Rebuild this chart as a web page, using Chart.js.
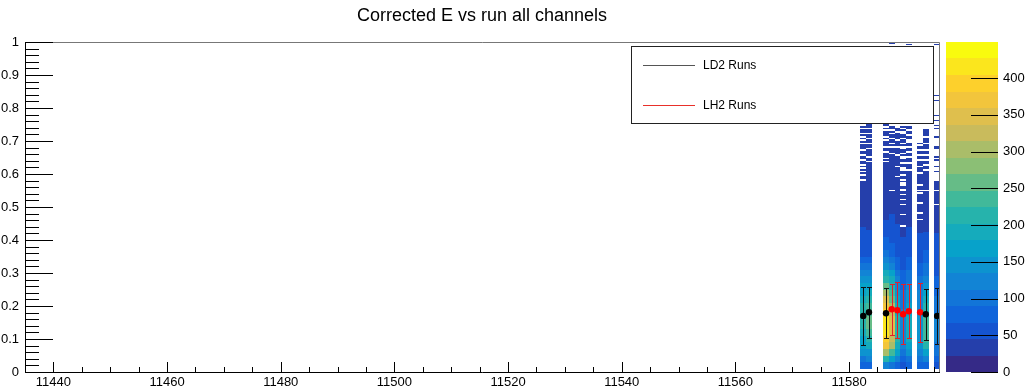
<!DOCTYPE html>
<html>
<head>
<meta charset="utf-8">
<script src="https://cdn.jsdelivr.net/npm/chart.js@4/dist/chart.umd.min.js"></script>
<style>
  html, body { margin: 0; padding: 0; background: #fff; }
</style>
</head>
<body>
<canvas id="chart" width="1033" height="391"></canvas>
<script>
// axis ranges and tick labels
const xMin = 11435, xMax = 11596;
const xTickVals = [11440, 11460, 11480, 11500, 11520, 11540, 11560, 11580];
const yTickVals = [0, 0.1, 0.2, 0.3, 0.4, 0.5, 0.6, 0.7, 0.8, 0.9, 1];
const zMax = 449;
const zTickVals = [0, 50, 100, 150, 200, 250, 300, 350, 400];
const nLevels = 20;

// runs with entries, each bin is [run, run+1]
const runs = [11582, 11583, 11586, 11587, 11588, 11589, 11590, 11592, 11593, 11595];

// counts of the lower part, y bins of 0.02 starting at 0.01
const lowStart = 0.01, lowStep = 0.02;
const counts11582 = [80, 104, 150, 171, 176, 195, 210, 218, 215, 207, 192, 172, 165, 150, 125, 103, 82, 60, 55, 52];
const counts11583 = [76, 120, 150, 188, 210, 232, 250, 255, 238, 230, 212, 185, 165, 140, 118, 98, 75, 58, 50, 48];
const counts11586 = [120, 208, 300, 368, 392, 410, 418, 412, 390, 372, 345, 305, 252, 210, 185, 145, 120, 95, 78, 70];
const counts11587 = [100, 160, 228, 296, 318, 340, 352, 345, 322, 300, 255, 232, 205, 188, 162, 120, 96, 80, 72, 58];
const counts11588 = [72, 118, 162, 185, 205, 212, 218, 208, 195, 186, 165, 142, 125, 115, 95, 80, 70, 58, 50, 47];
const counts11589 = [52, 78, 100, 118, 125, 130, 128, 122, 115, 108, 100, 92, 84, 76, 70, 60, 52, 48, 46, 45];
const counts11590 = [75, 105, 148, 170, 188, 195, 198, 190, 175, 165, 150, 140, 122, 106, 95, 82, 72, 60, 52, 48];
const counts11592 = [70, 100, 125, 140, 150, 152, 148, 145, 138, 128, 120, 115, 102, 95, 85, 72, 62, 55, 48, 46];
const counts11593 = [78, 122, 165, 210, 228, 240, 236, 230, 218, 205, 190, 170, 150, 122, 105, 95, 80, 70, 58, 50];
const counts11595 = [55, 80, 98, 110, 118, 125, 122, 115, 108, 100, 92, 85, 76, 70, 60, 52, 48, 47, 46, 45];

// middle band: counts up to midTops, then sparse counts up to tops
const midTops = [0.44, 0.43, 0.46, 0.48, 0.45, 0.41, 0.44, 0.42, 0.425, 0.42];
const midCounts = [52, 50, 56, 54, 48, 0, 50, 48, 50, 47];
const tops = [0.745, 0.755, 0.75, 0.745, 0.74, 0.745, 0.745, 0.695, 0.735, 0.58];
const highCounts = [34, 36, 38, 36, 32, 28, 34, 30, 33, 30];
const cellH = 0.005;

// empty 0.005 bins inside the sparse part
const gaps11582 = [0.735, 0.72, 0.71, 0.7, 0.69, 0.67, 0.655, 0.64, 0.625, 0.615, 0.605, 0.595, 0.58];
const gaps11583 = [0.735, 0.72, 0.705, 0.69, 0.675, 0.65, 0.635];
const gaps11586 = [0.74, 0.73, 0.71, 0.7, 0.68, 0.665, 0.645, 0.635];
const gaps11587 = [0.73, 0.72, 0.705, 0.69, 0.68, 0.66];
const gaps11588 = [0.725, 0.7, 0.68, 0.655, 0.62, 0.59];
const gaps11589 = [0.735, 0.725, 0.72, 0.705, 0.69, 0.68, 0.675, 0.66, 0.65, 0.645, 0.63, 0.615, 0.61, 0.595, 0.58, 0.57, 0.565, 0.55, 0.535, 0.52, 0.505, 0.475, 0.44];
const gaps11590 = [0.73, 0.715, 0.7, 0.695, 0.68, 0.665, 0.65, 0.63, 0.61];
const gaps11592 = [0.685, 0.67, 0.655, 0.64, 0.62, 0.6, 0.565, 0.54, 0.51, 0.48, 0.46];
const gaps11593 = [0.71, 0.69, 0.67, 0.655, 0.64, 0.625, 0.61];
const gaps11595 = [0.505];

// isolated bins high up
const strayRuns = [11595, 11595, 11595, 11595, 11595, 11595, 11595, 11595, 11595, 11595, 11595, 11595, 11595, 11595, 11587, 11590];
const strayValues = [0.99, 0.835, 0.82, 0.775, 0.76, 0.745, 0.735, 0.71, 0.68, 0.675, 0.65, 0.64, 0.62, 0.605, 0.995, 0.99];
const strayCounts = [28, 26, 27, 30, 29, 31, 30, 28, 32, 30, 29, 31, 33, 30, 26, 24];

// graph points: LD2 and LH2 runs
const ld2Runs = [11582, 11583, 11586, 11593, 11595];
const ld2Values = [0.170, 0.181, 0.178, 0.175, 0.170];
const ld2Errors = [0.088, 0.077, 0.076, 0.078, 0.085];
const lh2Runs = [11587, 11588, 11589, 11590, 11592];
const lh2Values = [0.190, 0.187, 0.175, 0.184, 0.181];
const lh2Errors = [0.078, 0.085, 0.091, 0.082, 0.089];

const lowCounts = [counts11582, counts11583, counts11586, counts11587, counts11588,
                   counts11589, counts11590, counts11592, counts11593, counts11595];
const gapLists = [gaps11582, gaps11583, gaps11586, gaps11587, gaps11588,
                  gaps11589, gaps11590, gaps11592, gaps11593, gaps11595];

const FONT = "'Liberation Sans', Arial, Helvetica, sans-serif";

// kBird palette
function birdColor(t) {
    const s = [0, 0.125, 0.25, 0.375, 0.5, 0.625, 0.75, 0.875, 1];
    const r = [0.2082, 0.0592, 0.0780, 0.0232, 0.1802, 0.5301, 0.8186, 0.9956, 0.9764];
    const g = [0.1664, 0.3599, 0.5041, 0.6419, 0.7178, 0.7492, 0.7328, 0.7862, 0.9832];
    const b = [0.5293, 0.8684, 0.8385, 0.7914, 0.6425, 0.4662, 0.3499, 0.1968, 0.0539];
    let i = 0;
    while (i < s.length - 2 && t > s[i + 1]) i++;
    const f = (t - s[i]) / (s[i + 1] - s[i]);
    const c = a => Math.round(255 * (a[i] + (a[i + 1] - a[i]) * f));
    return 'rgb(' + c(r) + ',' + c(g) + ',' + c(b) + ')';
}
const levelColors = [];
for (let i = 0; i < nLevels; i++) levelColors.push(birdColor(i / (nLevels - 1)));

function colorFor(z) {
    const i = Math.floor(z / (zMax / nLevels));
    return levelColors[Math.max(0, Math.min(nLevels - 1, i))];
}

// keep the axes from asking for extra room around the plot
function fixSize(prop, size) {
    return s => {
        s[prop] = size;
        s.paddingTop = s.paddingBottom = s.paddingLeft = s.paddingRight = 0;
    };
}

// 2D histogram cells
const heatPlugin = {
    id: 'heat',
    beforeDatasetsDraw(chart) {
        const { ctx, chartArea: a } = chart;
        const x = chart.scales.x, y = chart.scales.y;
        ctx.save();
        ctx.beginPath();
        ctx.rect(a.left, a.top, a.right - a.left, a.bottom - a.top);
        ctx.clip();
        const cell = (run, v0, v1, z) => {
            if (z <= 0) return;
            const px0 = Math.round(x.getPixelForValue(run));
            const px1 = Math.round(x.getPixelForValue(run + 1));
            const py0 = Math.round(y.getPixelForValue(v1));
            const py1 = Math.round(y.getPixelForValue(v0));
            ctx.fillStyle = colorFor(z);
            ctx.fillRect(px0, py0, px1 - px0, py1 - py0);
        };
        runs.forEach((run, i) => {
            const low = lowCounts[i];
            low.forEach((z, k) => cell(run, lowStart + k * lowStep, lowStart + (k + 1) * lowStep, z));
            const lowTop = lowStart + low.length * lowStep;
            cell(run, lowTop, midTops[i], midCounts[i]);
            const n = Math.round((tops[i] - midTops[i]) / cellH);
            for (let k = 0; k < n; k++) {
                const v = midTops[i] + k * cellH;
                if (gapLists[i].some(g => Math.abs(g - v) < cellH / 2)) continue;
                cell(run, v, v + cellH, highCounts[i]);
            }
        });
        strayRuns.forEach((r, j) => cell(r, strayValues[j], strayValues[j] + cellH, strayCounts[j]));
        ctx.restore();

        // error bars under the markers
        chart.data.datasets.forEach((ds, di) => {
            const meta = chart.getDatasetMeta(di);
            ctx.save();
            ctx.strokeStyle = ds.errColor;
            ctx.lineWidth = 1;
            meta.data.forEach((pt, j) => {
                const px = Math.round(pt.x) + 0.5;
                const v = ds.data[j].y, e = ds.errors[j];
                const yt = Math.round(y.getPixelForValue(v + e)) + 0.5;
                const yb = Math.round(y.getPixelForValue(v - e)) + 0.5;
                ctx.beginPath();
                ctx.moveTo(px, yt); ctx.lineTo(px, yb);
                ctx.moveTo(px - 2.5, yt); ctx.lineTo(px + 2.5, yt);
                ctx.moveTo(px - 2.5, yb); ctx.lineTo(px + 2.5, yb);
                ctx.stroke();
            });
            ctx.restore();
        });
    }
};

// frame, inside ticks, palette, legend and title
const framePlugin = {
    id: 'frame',
    afterDraw(chart) {
        const { ctx, chartArea: a } = chart;
        const x = chart.scales.x, y = chart.scales.y, z = chart.scales.z;
        ctx.save();
        ctx.lineWidth = 1;
        // frame: axes dark, top and right edges a bit lighter
        ctx.strokeStyle = '#777';
        ctx.beginPath();
        ctx.moveTo(a.left, a.top + 0.5); ctx.lineTo(a.right - 0.5, a.top + 0.5);
        ctx.lineTo(a.right - 0.5, a.bottom);
        ctx.stroke();
        ctx.strokeStyle = '#000';
        ctx.beginPath();
        ctx.moveTo(a.left + 0.5, a.top); ctx.lineTo(a.left + 0.5, a.bottom + 0.5);
        ctx.lineTo(a.right, a.bottom + 0.5);
        ctx.stroke();

        // y ticks, major 0.1 and minor 0.02
        ctx.beginPath();
        for (let k = 0; k <= 50; k++) {
            const py = Math.round(y.getPixelForValue(k * 0.02)) + 0.5;
            const len = k % 5 === 0 ? 28 : 14;
            ctx.moveTo(a.left, py); ctx.lineTo(a.left + len, py);
        }
        // x ticks, major 20 and minor 5
        for (let v = 11440; v <= xMax; v += 5) {
            const px = Math.round(x.getPixelForValue(v)) + 0.5;
            const len = (v - 11440) % 20 === 0 ? 10 : 5;
            ctx.moveTo(px, a.bottom); ctx.lineTo(px, a.bottom - len);
        }
        ctx.stroke();

        // colour palette
        const pl = a.right + 6, pr = a.right + 58;
        for (let i = 0; i < nLevels; i++) {
            const y0 = Math.round(z.getPixelForValue(i * zMax / nLevels));
            const y1 = Math.round(z.getPixelForValue((i + 1) * zMax / nLevels));
            ctx.fillStyle = levelColors[i];
            ctx.fillRect(pl, y1, pr - pl, y0 - y1);
        }
        ctx.beginPath();
        zTickVals.forEach(v => {
            const py = Math.round(z.getPixelForValue(v)) + 0.5;
            ctx.moveTo(pr, py); ctx.lineTo(pr - 27, py);
        });
        ctx.stroke();

        // legend
        const lx = 631.5, ly = 46.5, lw = 302, lh = 77;
        ctx.fillStyle = '#fff';
        ctx.fillRect(lx, ly, lw, lh);
        ctx.strokeStyle = '#222';
        ctx.strokeRect(lx, ly, lw, lh);
        ctx.font = '12px ' + FONT;
        ctx.textBaseline = 'middle';
        ctx.textAlign = 'left';
        const entries = [['LD2 Runs', '#555', 65.5], ['LH2 Runs', '#e8302a', 105.5]];
        entries.forEach(([label, col, ey]) => {
            ctx.strokeStyle = col;
            ctx.beginPath();
            ctx.moveTo(643, ey); ctx.lineTo(695, ey);
            ctx.stroke();
            ctx.fillStyle = '#000';
            ctx.fillText(label, 703, ey);
        });

        // title
        ctx.font = '18px ' + FONT;
        ctx.textAlign = 'center';
        ctx.fillStyle = '#000';
        ctx.fillText('Corrected E vs run all channels', 482, 16);
        ctx.restore();
    }
};

const tickFont = { family: FONT, size: 13 };

new Chart(document.getElementById('chart'), {
    type: 'scatter',
    data: {
        datasets: [
            {
                label: 'LD2 Runs',
                data: ld2Runs.map((r, i) => ({ x: r + 0.5, y: ld2Values[i] })),
                errors: ld2Errors,
                errColor: '#111',
                pointRadius: 3.2,
                pointBackgroundColor: '#000',
                pointBorderWidth: 0
            },
            {
                label: 'LH2 Runs',
                data: lh2Runs.map((r, i) => ({ x: r + 0.5, y: lh2Values[i] })),
                errors: lh2Errors,
                errColor: '#e4202a',
                pointRadius: 3.2,
                pointBackgroundColor: '#ff0000',
                pointBorderWidth: 0
            }
        ]
    },
    options: {
        responsive: false,
        animation: false,
        layout: { padding: { top: 42, left: 0, right: 0, bottom: 0 } },
        plugins: {
            legend: { display: false },
            title: { display: false },
            tooltip: { enabled: false }
        },
        scales: {
            x: {
                type: 'linear',
                min: xMin,
                max: xMax,
                afterBuildTicks: s => { s.ticks = xTickVals.map(v => ({ value: v })); },
                afterFit: fixSize('height', 19),
                grid: { display: false, drawTicks: false },
                border: { display: false },
                ticks: { autoSkip: false, maxRotation: 0, padding: 3, color: '#000', font: tickFont,
                         callback: v => String(v) }
            },
            y: {
                type: 'linear',
                min: 0,
                max: 1,
                afterBuildTicks: s => { s.ticks = yTickVals.map(v => ({ value: v })); },
                afterFit: fixSize('width', 25),
                grid: { display: false, drawTicks: false },
                border: { display: false },
                ticks: { autoSkip: false, padding: 6, color: '#000', font: tickFont,
                         callback: v => String(v) }
            },
            z: {
                type: 'linear',
                axis: 'y',
                position: 'right',
                min: 0,
                max: zMax,
                afterBuildTicks: s => { s.ticks = zTickVals.map(v => ({ value: v })); },
                afterFit: fixSize('width', 93),
                grid: { display: false, drawTicks: false },
                border: { display: false },
                ticks: { autoSkip: false, padding: 63, color: '#000', font: tickFont,
                         callback: v => String(v) }
            }
        }
    },
    plugins: [heatPlugin, framePlugin]
});
</script>
</body>
</html>
